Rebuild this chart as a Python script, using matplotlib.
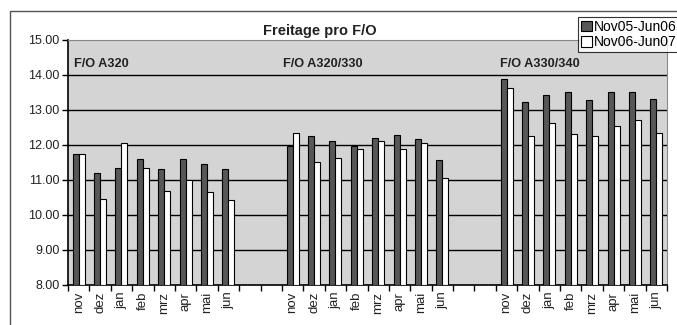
import matplotlib
matplotlib.use("Agg")
import matplotlib.pyplot as plt
from matplotlib.patches import Rectangle
import numpy as np

plt.rcParams['font.family'] = ['Liberation Sans', 'DejaVu Sans']

months = ["nov", "dez", "jan", "feb", "mrz", "apr", "mai", "jun"]
groups = ["F/O A320", "F/O A320/330", "F/O A330/340"]
series_names = ["Nov05-Jun06", "Nov06-Jun07"]

a320_0506 = [11.73, 11.19, 11.33, 11.59, 11.30, 11.59, 11.45, 11.30]
a320_0607 = [11.73, 10.44, 12.04, 11.33, 10.69, 11.00, 10.66, 10.41]
a320330_0506 = [11.96, 12.26, 12.11, 11.98, 12.21, 12.29, 12.17, 11.58]
a320330_0607 = [12.33, 11.51, 11.62, 11.88, 12.10, 11.88, 12.06, 11.06]
a330340_0506 = [13.89, 13.24, 13.42, 13.52, 13.28, 13.52, 13.52, 13.31]
a330340_0607 = [13.62, 12.26, 12.62, 12.32, 12.26, 12.54, 12.72, 12.35]

title = "Freitage pro F/O"
yticks = [8, 9, 10, 11, 12, 13, 14, 15]

W, H = 677, 325
fig = plt.figure(figsize=(W / 100, H / 100), dpi=100)
fig.patch.set_facecolor("white")

# outer frame
fig.patches.append(Rectangle((10 / W, -0.1), 1.2, (1 - 11 / H) + 0.1,
                             transform=fig.transFigure, fill=False,
                             edgecolor="#555555", lw=1.0))

ax = fig.add_axes([68 / W, 1 - 284.7 / H, (667 - 68) / W, (284.7 - 40) / H])
ax.set_facecolor("#d4d4d4")

gap = 2
n = len(months)
dark_vals = [a320_0506, a320330_0506, a330340_0506]
white_vals = [a320_0607, a320330_0607, a330340_0607]

bw = 0.28
centers = []
labels = []
for gi in range(3):
    start = gi * (n + gap)
    x = np.arange(n) + start
    centers.extend(list(x))
    labels.extend(months)
    ax.bar(x - bw / 2, np.array(dark_vals[gi]) - 8, bottom=8, width=bw,
           color="#575757", edgecolor="black", lw=0.8, zorder=3,
           label=series_names[0] if gi == 0 else None)
    ax.bar(x + bw / 2, np.array(white_vals[gi]) - 8, bottom=8, width=bw,
           color="white", edgecolor="black", lw=0.8, zorder=3,
           label=series_names[1] if gi == 0 else None)

total = 3 * n + 2 * gap
ax.set_xlim(-0.5, total - 0.5)
ax.set_ylim(8, 15)

for y in yticks[1:-1]:
    ax.axhline(y, color="black", lw=1.0, zorder=1)

ax.set_yticks(yticks)
ax.set_yticklabels([f"{v:.2f}" for v in yticks], fontsize=9, color="#222222")
ax.tick_params(axis="y", direction="out", length=4, width=1, pad=2)

ax.set_xticks(np.arange(total + 1) - 0.5)
ax.set_xticklabels([])
ax.tick_params(axis="x", which="major", direction="out", length=4, width=1)
ax.set_xticks(centers, minor=True)
ax.set_xticklabels(labels, minor=True, rotation=90, fontsize=9.5, color="#222222")
ax.tick_params(axis="x", which="minor", length=0, pad=5)

for s in ["left", "bottom"]:
    ax.spines[s].set_color("black")
    ax.spines[s].set_linewidth(1.2)
for s in ["top", "right"]:
    ax.spines[s].set_color("#888888")
    ax.spines[s].set_linewidth(0.8)

label_x = [-0.2, 9.55, 19.7]
for gi, g in enumerate(groups):
    ax.text(label_x[gi], 14.3, g, fontsize=9.2, fontweight="bold",
            ha="left", va="center", color="#222222", zorder=4)

fig.text(320 / W, 1 - 31 / H, title, fontsize=10.5, fontweight="bold",
         ha="center", va="center", color="#222222")

handles, lbls = ax.get_legend_handles_labels()
leg = fig.legend(handles, lbls, loc="upper left",
                 bbox_to_anchor=(578 / W, 1 - 17 / H),
                 fontsize=10, frameon=True, fancybox=False,
                 handlelength=0.8, handleheight=0.8, handletextpad=0.15,
                 borderpad=0.2, labelspacing=0.1, borderaxespad=0)
leg.get_frame().set_edgecolor("black")
leg.get_frame().set_linewidth(0.8)

fig.savefig("out.png", dpi=100)
